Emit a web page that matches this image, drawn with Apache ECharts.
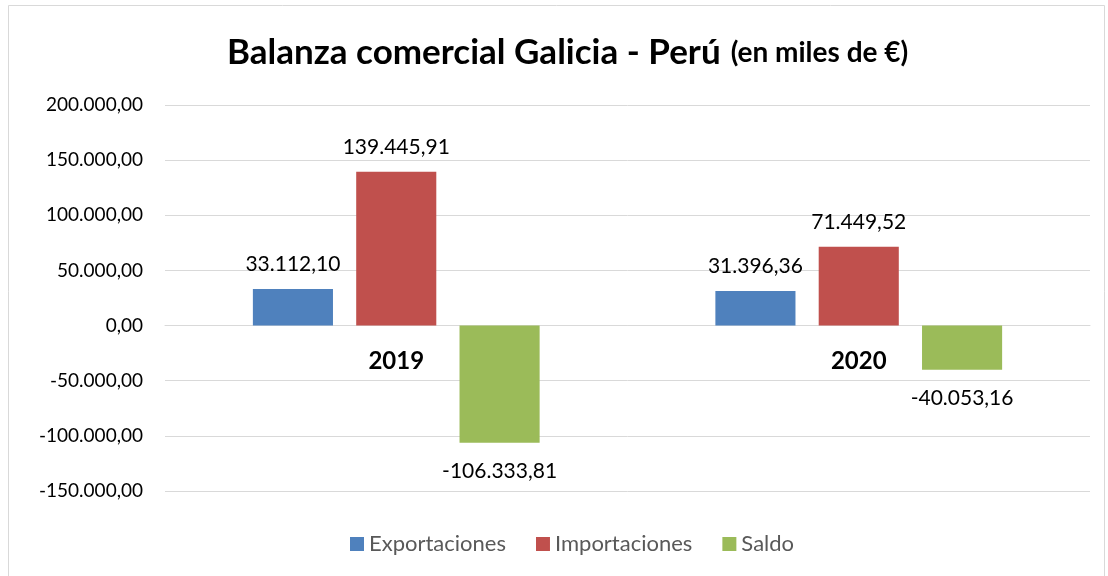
<!DOCTYPE html>
<html>
<head>
<meta charset="utf-8">
<script src="https://cdn.jsdelivr.net/npm/echarts@6/dist/echarts.min.js"></script>
<style>
  html, body { margin: 0; padding: 0; background: #fff; }
  #chart { width: 1108px; height: 576px; }
</style>
</head>
<body>
<div id="chart"></div>
<script>
// datos del gráfico
var years = ['2019', '2020'];
var exportaciones = [33112.10, 31396.36];
var importaciones = [139445.91, 71449.52];
var saldo = [-106333.81, -40053.16];
var yMin = -150000, yMax = 200000;

// formato español: 1.234,56
function fmt(v) {
    var neg = v < 0;
    var parts = Math.abs(v).toFixed(2).split('.');
    var ent = parts[0].replace(/\B(?=(\d{3})+(?!\d))/g, '.');
    return (neg ? '-' : '') + ent + ',' + parts[1];
}

var font = 'Lato, "Noto Sans", sans-serif';
var gridTop = 105, gridBottom = 85;
var plotH = 576 - gridTop - gridBottom;
var chart = echarts.init(document.getElementById('chart'));

function serie(name, data, color, pos, dist) {
    return {
        name: name,
        type: 'bar',
        data: data,
        barGap: '29%',
        barCategoryGap: '38%',
        itemStyle: { color: color },
        label: {
            show: true,
            position: pos,
            distance: dist,
            fontFamily: font,
            fontSize: 21,
            color: '#000',
            formatter: function (p) { return fmt(p.value); }
        }
    };
}

var option = {
    animation: false,
    backgroundColor: '#fff',
    graphic: [{
        type: 'rect',
        shape: { x: 8.5, y: 5.5, width: 1096, height: 590 },
        style: { fill: 'none', stroke: '#d9d9d9', lineWidth: 1 },
        silent: true
    }],
    title: {
        text: '{a|Balanza comercial Galicia - Perú}  {b|(en miles de €)}',
        left: 222,
        top: 30,
        textStyle: {
            rich: {
                a: { fontFamily: font, fontSize: 35, fontWeight: 'bold', color: '#000' },
                b: { fontFamily: font, fontSize: 28, fontWeight: 'bold', color: '#000' }
            }
        }
    },
    legend: {
        bottom: 16,
        left: 345,
        itemWidth: 14,
        itemHeight: 14,
        itemGap: 30,
        icon: 'rect',
        textStyle: { fontFamily: font, fontSize: 22, color: '#595959' },
        data: ['Exportaciones', 'Importaciones', 'Saldo']
    },
    grid: { left: 165, right: 18, top: gridTop, bottom: gridBottom },
    xAxis: {
        type: 'category',
        data: years,
        // eje en el cero
        offset: -plotH * (0 - yMin) / (yMax - yMin),
        axisLine: { onZero: false, lineStyle: { color: '#d9d9d9' } },
        axisTick: { show: false },
        axisLabel: {
            margin: 24,
            fontFamily: font,
            fontSize: 24,
            fontWeight: 'bold',
            color: '#000'
        }
    },
    yAxis: {
        type: 'value',
        min: yMin,
        max: yMax,
        interval: 50000,
        axisLine: { show: false },
        axisTick: { show: false },
        splitLine: { lineStyle: { color: '#d9d9d9', width: 1 } },
        axisLabel: {
            margin: 22,
            fontFamily: font,
            fontSize: 19,
            color: '#000',
            formatter: function (v) { return fmt(v); }
        }
    },
    series: [
        serie('Exportaciones', exportaciones, '#4F81BD', 'top', 14),
        serie('Importaciones', importaciones, '#C0504D', 'top', 14),
        serie('Saldo', saldo, '#9BBB59', 'bottom', 18)
    ]
};
chart.setOption(option);
</script>
</body>
</html>
